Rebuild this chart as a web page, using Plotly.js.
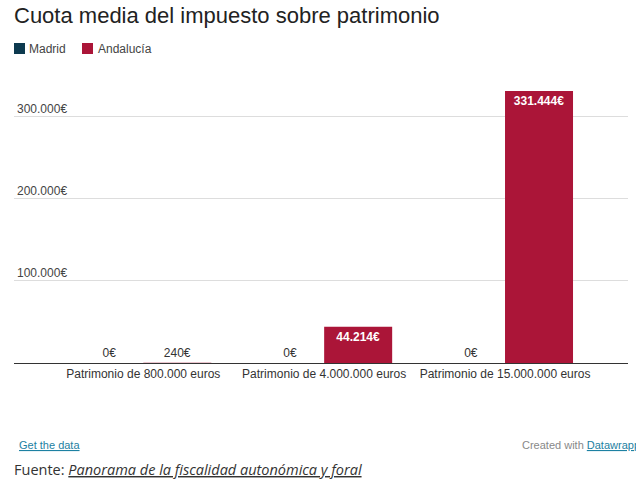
<!DOCTYPE html>
<html>
<head>
<meta charset="utf-8">
<script src="https://cdn.plot.ly/plotly-3.0.1.min.js"></script>
<style>
  html, body { margin: 0; padding: 0; background: #fff; }
  #chart { width: 636px; height: 484px; }
</style>
</head>
<body>
<div id="chart"></div>
<script>
const categories = ["Patrimonio de 800.000 euros", "Patrimonio de 4.000.000 euros", "Patrimonio de 15.000.000 euros"];
const seriesNames = ["Madrid", "Andalucía"];
const madridValues = [0, 0, 0];
const andaluciaValues = [240, 44214, 331444];
const yTickValues = [100000, 200000, 300000];
const madridColor = "#0d3a4f";
const andaluciaColor = "#ab1538";

function fmt(v) {
  return v.toString().replace(/\B(?=(\d{3})+(?!\d))/g, ".") + "€";
}

const FONT = "Liberation Sans, Arial, sans-serif";

const traces = [
  {
    type: "bar", name: seriesNames[0], x: categories, y: madridValues,
    marker: { color: madridColor },
    text: madridValues.map(fmt), textposition: "outside",
    outsidetextfont: { family: FONT, size: 12, color: "#333" },
    cliponaxis: false, hoverinfo: "none", showlegend: false
  },
  {
    type: "bar", name: seriesNames[1], x: categories, y: andaluciaValues,
    marker: { color: andaluciaColor },
    text: andaluciaValues.map(fmt),
    textposition: andaluciaValues.map(v => v > 20000 ? "inside" : "outside"),
    insidetextanchor: "end",
    insidetextfont: { family: FONT, size: 12, color: "#fff", weight: "bold" },
    outsidetextfont: { family: FONT, size: 12, color: "#333" },
    cliponaxis: false, hoverinfo: "none", showlegend: false
  }
];

const layout = {
  width: 636, height: 484,
  margin: { l: 14, r: 8, t: 84, b: 121 },
  paper_bgcolor: "#fff", plot_bgcolor: "#fff",
  separators: ",.",
  font: { family: FONT, size: 12, color: "#333" },
  barmode: "group", bargap: 0.248, bargroupgap: 0,
  showlegend: false,
  xaxis: {
    type: "category", range: [-0.715, 2.68],
    showline: true, linecolor: "#333", linewidth: 1,
    showgrid: false, ticks: "", zeroline: false,
    tickfont: { family: FONT, size: 12, color: "#333" }
  },
  yaxis: {
    range: [0, 340000], tickmode: "array", tickvals: yTickValues,
    ticktext: yTickValues.map(fmt),
    ticklabelposition: "inside top",
    showgrid: true, gridcolor: "#dddddd", gridwidth: 1,
    zeroline: false, showline: false, ticks: "",
    tickfont: { family: FONT, size: 12, color: "#444" }
  },
  title: {
    text: "Cuota media del impuesto sobre patrimonio",
    x: 0, xref: "paper", xanchor: "left", y: 1, yref: "container", yanchor: "top",
    pad: { l: 0, t: 8 },
    font: { family: FONT, size: 22, color: "#222" }
  },
  shapes: [
    { type: "rect", xref: "paper", yref: "paper", xsizemode: "pixel", ysizemode: "pixel",
      xanchor: 0, yanchor: 1, x0: 0, x1: 11, y0: 41, y1: 30,
      fillcolor: madridColor, line: { width: 0 } },
    { type: "rect", xref: "paper", yref: "paper", xsizemode: "pixel", ysizemode: "pixel",
      xanchor: 0, yanchor: 1, x0: 68, x1: 79, y0: 41, y1: 30,
      fillcolor: andaluciaColor, line: { width: 0 } }
  ],
  annotations: [
    { text: seriesNames[0], xref: "paper", yref: "paper", x: 0, y: 1, xanchor: "left", yanchor: "middle",
      xshift: 13, yshift: 35.5, showarrow: false, font: { family: FONT, size: 12, color: "#444" } },
    { text: seriesNames[1], xref: "paper", yref: "paper", x: 0, y: 1, xanchor: "left", yanchor: "middle",
      xshift: 82, yshift: 35.5, showarrow: false, font: { family: FONT, size: 12, color: "#444" } },
    { text: "<u>Get the data</u>", xref: "paper", yref: "paper", x: 0, y: 0, xanchor: "left", yanchor: "middle",
      xshift: 3, yshift: -82, showarrow: false, font: { family: FONT, size: 11, color: "#1d81a2" } },
    { text: "Created with <span style='color:#1d81a2'><u>Datawrapper</u></span>", xref: "paper", yref: "paper", x: 0, y: 0,
      xanchor: "left", yanchor: "middle", xshift: 506, yshift: -82, showarrow: false,
      font: { family: FONT, size: 11, color: "#888" } },
    { text: "Fuente: <i><u>Panorama de la fiscalidad autonómica y foral</u></i>", xref: "paper", yref: "paper", x: 0, y: 0,
      xanchor: "left", yanchor: "middle", xshift: -2, yshift: -106, showarrow: false,
      font: { family: "Open Sans, Noto Sans, sans-serif", size: 14.5, color: "#333" } }
  ]
};

Plotly.newPlot("chart", traces, layout, { displayModeBar: false, staticPlot: true });
</script>
</body>
</html>
